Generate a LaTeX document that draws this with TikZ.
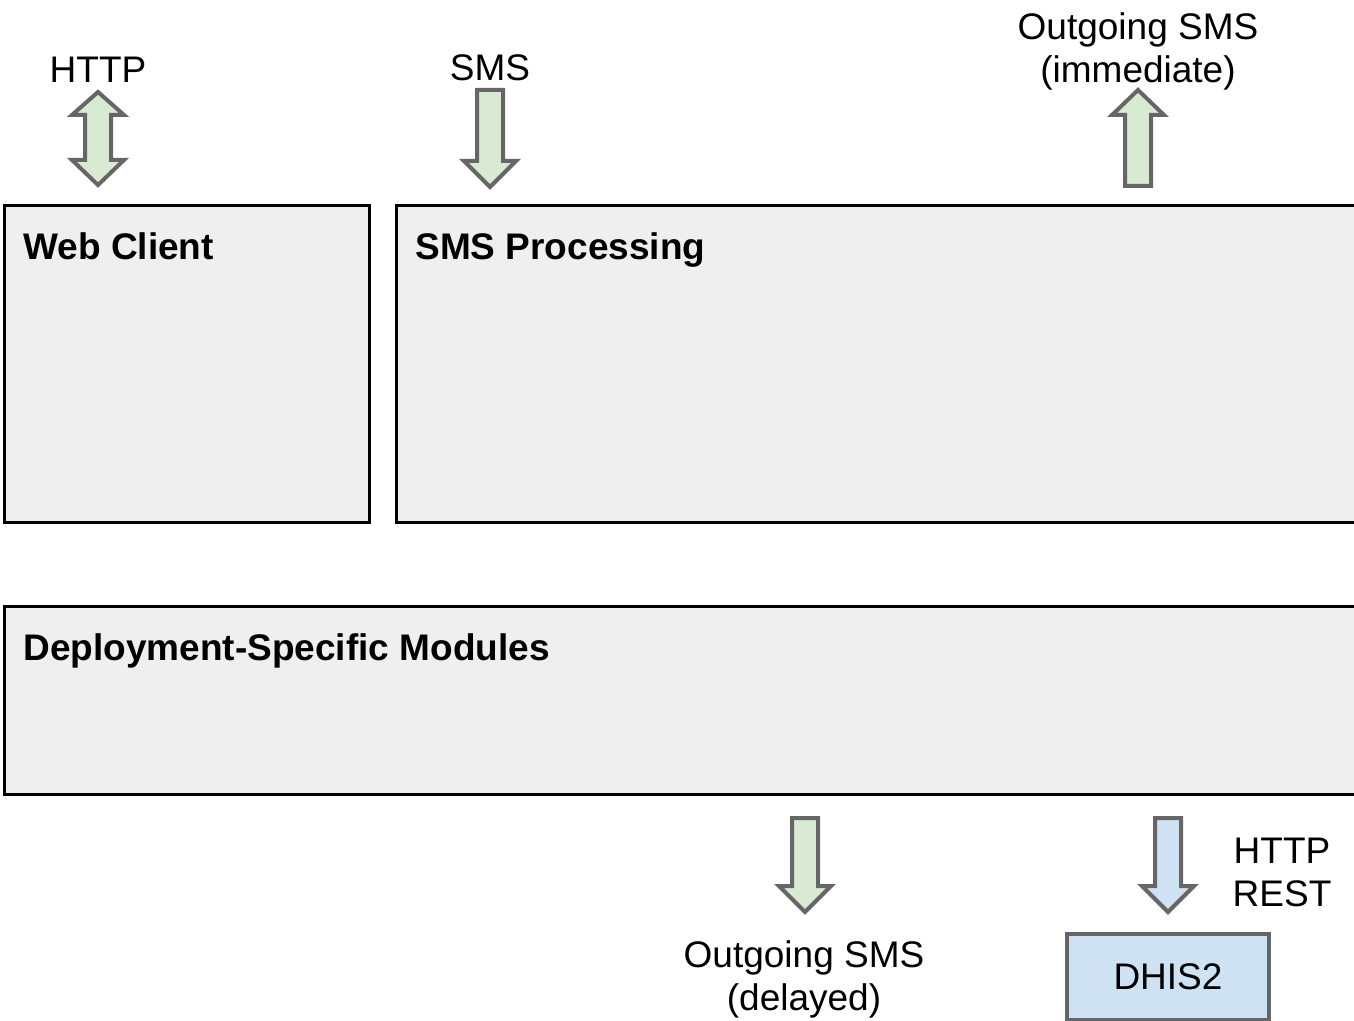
\documentclass[tikz,border=0pt]{standalone}
\usepackage{fontspec}
\setmainfont{Liberation Sans}
\usepackage{tikz}
\usetikzlibrary{positioning}

\definecolor{boxgray}{HTML}{EFEFEF}
\definecolor{arrowgreen}{HTML}{D9EAD3}
\definecolor{arrowblue}{HTML}{CFE2F3}
\definecolor{edgegray}{HTML}{666666}

\tikzset{
    module/.style={draw=black, line width=1.5pt, fill=boxgray},
    title/.style={anchor=base west, inner sep=0pt, font=\fontsize{18.5}{21.5}\selectfont\bfseries},
    lbl/.style={align=center, inner sep=0pt, font=\fontsize{18.5}{21.5}\selectfont},
    greenarrow/.style={draw=edgegray, line width=2pt, fill=arrowgreen, line join=miter},
    bluearrow/.style={draw=edgegray, line width=2pt, fill=arrowblue, line join=miter},
}

\begin{document}
\begin{tikzpicture}[x=0.5pt, y=-0.5pt]
    \useasboundingbox (0,0) rectangle (1354,1021);

    % the three module boxes
    \draw[module] (4,206) rectangle (369,522);
    \draw[module] (396,206) rectangle (1370,522);
    \draw[module] (4,606) rectangle (1370,794);
    \node[title] (webclient) at (23,260) {Web Client};
    \node[title] (smsproc) at (415,260) {SMS Processing};
    \node[title] (deploy) at (23,660) {Deployment-Specific Modules};

    % HTTP in and out
    \draw[greenarrow] (98,92) -- (124,115) -- (111,115) -- (111,160) -- (124,160)
        -- (98,185) -- (72,160) -- (85,160) -- (85,115) -- (72,115) -- cycle;
    \node[lbl] (http) at (98,70) {HTTP};

    % incoming SMS
    \draw[greenarrow] (477,90) -- (503,90) -- (503,161) -- (516,161)
        -- (490,187) -- (464,161) -- (477,161) -- cycle;
    \node[lbl] (smsin) at (490,68) {SMS};

    % outgoing SMS, immediate
    \draw[greenarrow] (1138,90) -- (1164,115) -- (1151,115) -- (1151,186)
        -- (1125,186) -- (1125,115) -- (1112,115) -- cycle;
    \node[lbl] (smsnow) at (1138,51) {Outgoing SMS\\(immediate)};

    % outgoing SMS, delayed
    \draw[greenarrow] (792,818) -- (818,818) -- (818,886) -- (831,886)
        -- (805,912) -- (779,886) -- (792,886) -- cycle;
    \node[lbl] (smslater) at (804,979) {Outgoing SMS\\(delayed)};

    % DHIS2
    \draw[bluearrow] (1155,818) -- (1181,818) -- (1181,886) -- (1194,886)
        -- (1168,912) -- (1142,886) -- (1155,886) -- cycle;
    \node[lbl] (rest) at (1282,872) {HTTP\\REST};
    \node[draw=edgegray, line width=2pt, fill=arrowblue, minimum width=101pt,
        minimum height=43pt, font=\fontsize{18.5}{21.5}\selectfont] (dhis) at (1168,977) {DHIS2};
\end{tikzpicture}
\end{document}
